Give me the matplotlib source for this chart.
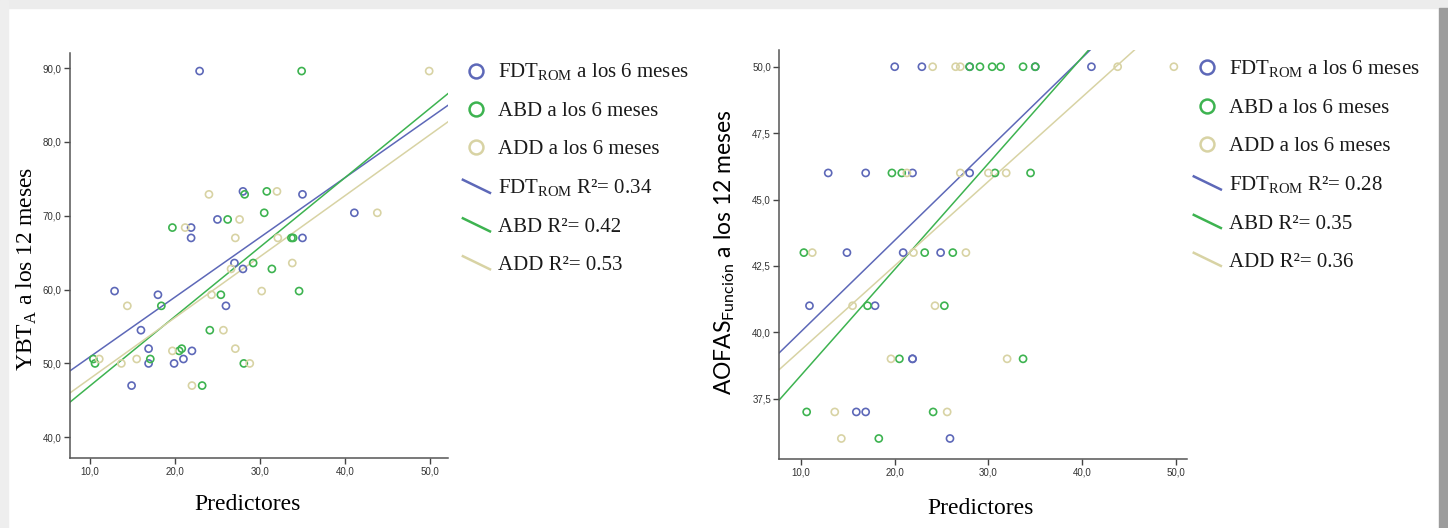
import matplotlib
matplotlib.use("Agg")
import matplotlib.pyplot as plt
import numpy as np
from matplotlib.lines import Line2D
from matplotlib.patches import Rectangle
from matplotlib.legend_handler import HandlerBase
from matplotlib.ticker import FuncFormatter

plt.rcParams['mathtext.fontset'] = 'custom'
plt.rcParams['mathtext.rm'] = 'Liberation Serif'
plt.rcParams['mathtext.sf'] = 'Lato'

# --- YBT_A a los 12 meses (left) ---
ybt_fdt_x = [22.9, 28.0, 35.0, 41.1, 25.0, 21.9, 21.9, 35.0, 27.0, 28.0, 12.9, 18.0, 16.0, 16.9, 16.9, 14.9, 19.9, 21.0, 22.0, 26.0]
ybt_fdt_y = [89.6, 73.3, 72.9, 70.4, 69.5, 68.4, 67.0, 67.0, 63.6, 62.8, 59.8, 59.3, 54.5, 52.0, 50.0, 47.0, 50.0, 50.6, 51.7, 57.8]
ybt_abd_x = [34.9, 28.2, 30.8, 30.5, 26.2, 19.7, 33.7, 33.9, 29.2, 31.4, 18.4, 17.1, 10.4, 10.6, 20.5, 20.8, 23.2, 24.1, 25.4, 28.1, 34.6]
ybt_abd_y = [89.6, 72.9, 73.3, 70.4, 69.5, 68.4, 67.0, 67.0, 63.6, 62.8, 57.8, 50.6, 50.6, 50.0, 51.7, 52.0, 47.0, 54.5, 59.3, 50.0, 59.8]
ybt_add_x = [49.9, 24.0, 32.0, 43.8, 27.6, 21.2, 27.1, 32.1, 26.6, 33.8, 14.4, 15.5, 13.7, 11.1, 19.7, 22.0, 25.7, 24.3, 27.1, 28.8, 30.2]
ybt_add_y = [89.6, 72.9, 73.3, 70.4, 69.5, 68.4, 67.0, 67.0, 62.8, 63.6, 57.8, 50.6, 50.0, 50.6, 51.7, 47.0, 54.5, 59.3, 52.0, 50.0, 59.8]
ybt_slope = [0.809, 0.940, 0.826]
ybt_icpt = [42.8, 37.56, 39.68]
ybt_r2 = ["0.34", "0.42", "0.53"]

# --- AOFAS_Funcion a los 12 meses (right) ---
aof_fdt_x = [20.0, 22.9, 28.0, 35.0, 41.0, 12.9, 16.9, 21.9, 28.0, 14.9, 20.9, 24.9, 10.9, 17.9, 21.9, 21.9, 15.9, 16.9, 25.9]
aof_fdt_y = [50, 50, 50, 50, 50, 46, 46, 46, 46, 43, 43, 43, 41, 41, 39, 39, 37, 37, 36]
aof_abd_x = [28.0, 29.1, 30.4, 31.3, 33.7, 35.0, 19.7, 20.75, 30.7, 34.5, 10.3, 23.2, 26.2, 17.1, 25.3, 20.5, 33.7, 10.6, 24.1, 18.3]
aof_abd_y = [50, 50, 50, 50, 50, 50, 46, 46, 46, 46, 43, 43, 43, 41, 41, 39, 39, 37, 37, 36]
aof_add_x = [24.05, 26.5, 27.0, 43.8, 49.8, 21.3, 27.0, 30.0, 31.9, 11.2, 22.0, 27.6, 15.5, 24.3, 19.6, 32.0, 13.6, 25.6, 14.3]
aof_add_y = [50, 50, 50, 50, 50, 46, 46, 46, 46, 43, 43, 43, 41, 41, 39, 39, 37, 37, 36]
aof_slope = [0.3436, 0.399, 0.3174]
aof_icpt = [36.59, 34.39, 36.16]
aof_r2 = ["0.28", "0.35", "0.36"]

colors = ['#5d68b8', '#3db350', '#d8d3a4']
names = ['FDT$_\\mathrm{ROM}$', 'ABD', 'ADD']


class SlantHandler(HandlerBase):
    def create_artists(self, legend, orig, xd, yd, w, h, fontsize, trans):
        ln = Line2D([-xd, -xd + w], [-yd + h * 0.95, -yd + h * 0.05],
                    color=orig.get_color(), lw=orig.get_linewidth(), transform=trans)
        return [ln]


def comma(v, pos):
    return ('%.1f' % v).replace('.', ',')


def panel(ax, xs, ys, slopes, icpts, r2s, xlim, ylim, yticks, leg_x):
    ax.set_xlim(xlim)
    ax.set_ylim(ylim)
    for x, y, c in zip(xs, ys, colors):
        ax.scatter(x, y, s=26, facecolors='none', edgecolors=c, linewidths=1.2, zorder=3)
    xx = np.array(xlim)
    for m, b, c in zip(slopes, icpts, colors):
        ax.plot(xx, m * xx + b, color=c, lw=1.1, zorder=2)
    ax.set_xticks([10, 20, 30, 40, 50])
    ax.set_yticks(yticks)
    ax.xaxis.set_major_formatter(FuncFormatter(comma))
    ax.yaxis.set_major_formatter(FuncFormatter(comma))
    ax.tick_params(direction='out', length=4, width=1, colors='#444444', labelsize=7,
                   labelcolor='#333333', pad=2)
    for t in ax.get_xticklabels() + ax.get_yticklabels():
        t.set_family('Liberation Sans')
    for s in ['top', 'right']:
        ax.spines[s].set_visible(False)
    for s in ['left', 'bottom']:
        ax.spines[s].set_color('#555555')
        ax.spines[s].set_linewidth(1.1)
    handles = [Line2D([], [], marker='o', ls='none', ms=10, mfc='none', mec=c, mew=1.8) for c in colors]
    handles += [Line2D([], [], color=c, lw=1.8) for c in colors]
    labels = [n + ' a los 6 meses' for n in names]
    labels += [n + ' R\u00b2= ' + r for n, r in zip(names, r2s)]
    hmap = {h: SlantHandler() for h in handles[3:]}
    leg = ax.legend(handles, labels, handler_map=hmap, loc='upper left', bbox_to_anchor=(leg_x, 1.015),
                    frameon=False, prop={'family': 'Liberation Serif', 'size': 15},
                    handlelength=1.3, handletextpad=0.4, labelspacing=0.88, borderaxespad=0.3)
    for t in leg.get_texts():
        t.set_color('#1a1a1a')
    return ax


fig = plt.figure(figsize=(14.48, 5.28), dpi=100)
fig.patch.set_facecolor('white')

ax1 = fig.add_axes([0.0483, 0.132, 0.2613, 0.767])
panel(ax1, [ybt_fdt_x, ybt_abd_x, ybt_add_x], [ybt_fdt_y, ybt_abd_y, ybt_add_y],
      ybt_slope, ybt_icpt, ybt_r2, (7.65, 52.15), (37.15, 92.0), [40, 50, 60, 70, 80, 90], 1.0)
ax1.set_xlabel('Predictores', family='Liberation Serif', fontsize=17, va='center')
ax1.xaxis.set_label_coords(0.469, -0.115)
ax1.set_ylabel('YBT$_\\mathrm{A}$ a los 12 meses', family='Liberation Serif', fontsize=17, va='center')
ax1.yaxis.set_label_coords(-0.113, 0.467)

ax2 = fig.add_axes([0.5382, 0.1313, 0.2818, 0.774])
panel(ax2, [aof_fdt_x, aof_abd_x, aof_add_x], [aof_fdt_y, aof_abd_y, aof_add_y],
      aof_slope, aof_icpt, aof_r2, (7.68, 51.24), (35.24, 50.63), [37.5, 40, 42.5, 45, 47.5, 50], 0.98)
ax2.set_xlabel('Predictores', family='Liberation Serif', fontsize=17, va='center')
ax2.xaxis.set_label_coords(0.493, -0.123)
ax2.set_ylabel('AOFAS$_\\mathsf{Función}$ a los 12 meses', family='Lato', fontsize=16.5, va='center')
ax2.yaxis.set_label_coords(-0.133, 0.506)

# page frame around the screenshot
fig.patches.append(Rectangle((0, 0.985), 1, 0.015, transform=fig.transFigure, color='#ececec', zorder=-1))
fig.patches.append(Rectangle((0, 0), 0.0055, 1, transform=fig.transFigure, color='#eeeeee', zorder=-1))
fig.patches.append(Rectangle((0.9938, 0), 0.0062, 0.985, transform=fig.transFigure, color='#9c9c9c', zorder=-1))

plt.savefig('out.png', dpi=100)
